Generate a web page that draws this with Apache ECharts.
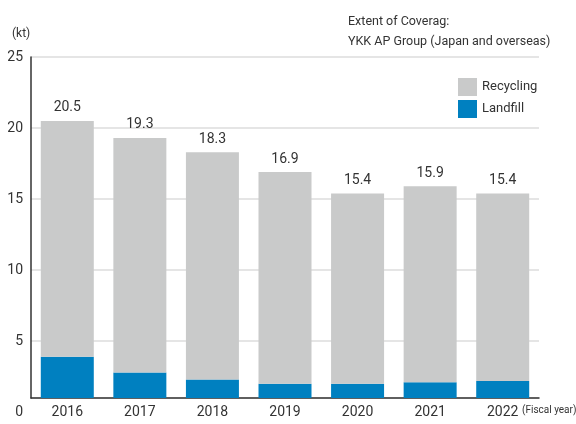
<!DOCTYPE html>
<html>
<head>
<meta charset="UTF-8" />
<script src="https://cdn.jsdelivr.net/npm/echarts@6/dist/echarts.min.js"></script>
<style>
  html, body, #main { margin: 0; padding: 0; width: 576px; height: 424px; background: #fff; }
</style>
</head>
<body>
<div id="main"></div>
<script>
  // fiscal years and values (kt)
  const years = ['2016', '2017', '2018', '2019', '2020', '2021', '2022'];
  const landfill = [3.9, 2.8, 2.3, 2.0, 2.0, 2.1, 2.2];
  const recycling = [16.6, 16.5, 16.0, 14.9, 13.4, 13.8, 13.2];
  const totals = [20.5, 19.3, 18.3, 16.9, 15.4, 15.9, 15.4];

  const font = "Roboto, 'Liberation Sans', sans-serif";
  const ink = '#333333';

  const chart = echarts.init(document.getElementById('main'));
  chart.setOption({
    animation: false,
    textStyle: { fontFamily: font, color: ink },
    title: {
      text: 'Extent of Coverag:\nYKK AP Group (Japan and overseas)',
      left: 343,
      top: 7,
      textStyle: { fontFamily: font, fontSize: 12.5, fontWeight: 'normal', color: ink, lineHeight: 20 }
    },
    legend: {
      data: ['Recycling', 'Landfill'],
      orient: 'vertical',
      left: 453,
      top: 73,
      itemWidth: 19,
      itemHeight: 18,
      itemGap: 4,
      icon: 'rect',
      textStyle: { fontFamily: font, fontSize: 13, color: ink }
    },
    grid: { left: 31, right: 37, top: 57, bottom: 26 },
    xAxis: {
      type: 'category',
      data: years,
      axisLine: { lineStyle: { color: ink, width: 1.5 } },
      axisTick: { show: false },
      axisLabel: { fontFamily: font, fontSize: 14, color: ink, margin: 7 }
    },
    yAxis: {
      type: 'value',
      min: 1,
      max: 25,
      splitNumber: 5,
      axisLine: { show: true, lineStyle: { color: ink, width: 1.5 } },
      axisTick: { show: false },
      splitLine: { lineStyle: { color: '#dcdcdc', width: 1.5 } },
      axisLabel: {
        fontFamily: font, fontSize: 14, color: ink, margin: 8, lineHeight: 14,
        formatter: v => (v === 1 ? '\n\n0' : String(v))
      }
    },
    graphic: [
      { type: 'text', left: 12, top: 28, style: { text: '(kt)', font: '12px ' + font, fill: ink } },
      { type: 'text', left: 522, top: 405, style: { text: '(Fiscal year)', font: '10px ' + font, fill: ink } }
    ],
    series: [
      {
        name: 'Landfill',
        type: 'bar',
        stack: 'total',
        barWidth: 53,
        data: landfill,
        itemStyle: { color: '#0080c0' }
      },
      {
        name: 'Recycling',
        type: 'bar',
        stack: 'total',
        barWidth: 53,
        data: recycling,
        itemStyle: { color: '#c9caca' },
        label: {
          show: true,
          position: 'top',
          distance: 6,
          fontFamily: font,
          fontSize: 14,
          color: ink,
          formatter: p => totals[p.dataIndex].toFixed(1)
        }
      }
    ]
  });
</script>
</body>
</html>
